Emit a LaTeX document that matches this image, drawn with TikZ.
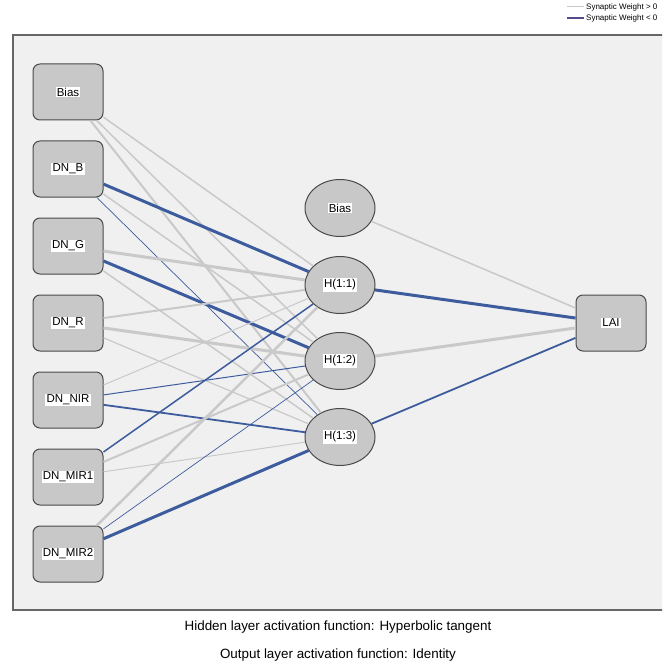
\documentclass[tikz,border=0pt]{standalone}
\usepackage{fontspec}
\setmainfont{Liberation Sans}
\usetikzlibrary{shapes.geometric}
\definecolor{wpos}{HTML}{C9C9C9}
\definecolor{wneg}{HTML}{3D5C9E}
\definecolor{boxfill}{HTML}{C8C8C8}
\definecolor{boxline}{HTML}{4A4A4A}
\definecolor{panelbg}{HTML}{F0F0F0}
\setlength{\fboxsep}{1.2pt}
\newcommand{\lbl}[1]{\colorbox{white}{#1}}

\tikzset{
  unit/.style={draw=boxline, fill=boxfill, line width=1pt, rounded corners=7pt,
    minimum width=70pt, minimum height=56pt, inner sep=0pt,
    font=\fontsize{11.5}{13}\selectfont},
  hid/.style={ellipse, draw=boxline, fill=boxfill, line width=1pt,
    minimum width=70pt, minimum height=57pt, inner sep=0pt,
    font=\fontsize{11.5}{13}\selectfont},
  pos/.style={draw=wpos, line width=#1pt},
  neg/.style={draw=wneg, line width=#1pt}
}

\begin{document}
\begin{tikzpicture}[x=1pt, y=-1pt]
\useasboundingbox (0,0) rectangle (662,663);
\clip (0,0) rectangle (662,663);
\fill[white] (0,0) rectangle (662,663);

% panel
\fill[panelbg] (13,35) rectangle (670,610);
\draw[draw=black!60, line width=1.5pt] (670,35) -- (13,35) -- (13,610) -- (670,610);

% legend
\coordinate (L1a) at (567,7);
\coordinate (L1b) at (584,7);
\coordinate (L2a) at (567,18);
\coordinate (L2b) at (584,18);
\draw[pos=1] (L1a) -- (L1b);
\draw[draw=wneg!80!purple, line width=1.2pt] (L2a) -- (L2b);
\node[anchor=west, inner sep=0pt, font=\fontsize{8}{10}\selectfont] (T1) at (586,7) {Synaptic Weight > 0};
\node[anchor=west, inner sep=0pt, font=\fontsize{8}{10}\selectfont] (T2) at (586,18) {Synaptic Weight < 0};

% input layer
\node[unit] (X0) at (68,92) {\lbl{Bias}};
\node[unit] (X1) at (68,169) {\lbl{DN\_B}};
\node[unit] (X2) at (68,246) {\lbl{DN\_G}};
\node[unit] (X3) at (68,323) {\lbl{DN\_R}};
\node[unit] (X4) at (68,400) {\lbl{DN\_NIR}};
\node[unit] (X5) at (68,477) {\lbl{DN\_MIR1}};
\node[unit] (X6) at (68,554) {\lbl{DN\_MIR2}};

% hidden layer
\node[hid] (H0) at (340,208) {\lbl{Bias}};
\node[hid] (H1) at (340,285) {\lbl{H(1:1)}};
\node[hid] (H2) at (340,361) {\lbl{H(1:2)}};
\node[hid] (H3) at (340,437) {\lbl{H(1:3)}};

% output layer
\node[unit] (Y) at (611,323) {\lbl{LAI}};

% weights, input -> hidden
\draw[pos=1.5] (X0) -- (H1);
\draw[pos=1.5] (X0) -- (H2);
\draw[pos=2] (X0) -- (H3);
\draw[neg=3] (X1) -- (H1);
\draw[pos=1.5] (X1) -- (H2);
\draw[neg=0.7] (X1) -- (H3);
\draw[pos=3] (X2) -- (H1);
\draw[neg=3] (X2) -- (H2);
\draw[pos=1.5] (X2) -- (H3);
\draw[pos=2] (X3) -- (H1);
\draw[pos=3] (X3) -- (H2);
\draw[pos=1.2] (X3) -- (H3);
\draw[pos=1] (X4) -- (H1);
\draw[neg=1] (X4) -- (H2);
\draw[neg=1.8] (X4) -- (H3);
\draw[neg=1.5] (X5) -- (H1);
\draw[pos=2] (X5) -- (H2);
\draw[pos=1] (X5) -- (H3);
\draw[pos=2.5] (X6) -- (H1);
\draw[neg=0.7] (X6) -- (H2);
\draw[neg=3] (X6) -- (H3);

% weights, hidden -> output
\draw[pos=1.5] (H0) -- (Y);
\draw[neg=3] (H1) -- (Y);
\draw[pos=3] (H2) -- (Y);
\draw[neg=1.8] (H3) -- (Y);

% activation functions
\node[font=\fontsize{13.4}{15}\selectfont] (F1) at (338,627) {Hidden layer activation function: Hyperbolic tangent};
\node[font=\fontsize{13.4}{15}\selectfont] (F2) at (338,655) {Output layer activation function: Identity};
\end{tikzpicture}
\end{document}
